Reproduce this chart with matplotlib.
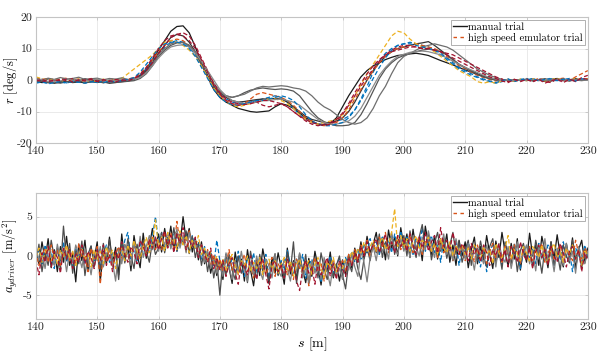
import matplotlib
matplotlib.use("Agg")
import matplotlib.pyplot as plt
import numpy as np

plt.rcParams['font.family'] = 'cmr10'
plt.rcParams['mathtext.fontset'] = 'cm'
plt.rcParams['axes.unicode_minus'] = False

# ---- yaw rate r [deg/s], sampled every 1 m from s = 140 to 230 ----
s_top_start = 140
s_top_step = 1.0

r_manual = [
    # black
    [-0.5, -0.8, -0.6, -1.0, -0.7, -0.4, -0.8, -0.6, -0.9, -0.5,
     -0.7, -0.6, -1.0, -0.8, -0.5, -0.3, 0.2, 1.5, 3.5, 6.5,
     9.5, 12.5, 15.5, 17.0, 17.2, 15.0, 10.5, 5.5, 1.0, -3.0,
     -5.5, -7.0, -8.0, -9.0, -9.5, -10.0, -10.2, -10.0, -9.8, -8.5,
     -7.5, -8.0, -9.0, -10.5, -12.0, -13.0, -14.0, -14.2, -13.8, -12.0,
     -8.5, -5.0, -2.0, 1.0, 3.0, 4.5, 5.5, 6.5, 7.2, 7.8,
     8.0, 8.3, 8.5, 8.2, 7.8, 7.0, 6.2, 5.5, 4.8, 4.0,
     3.2, 2.5, 1.8, 1.0, 0.6, 0.2, -0.2, 0.1, -0.3, 0.2,
     -0.1, 0.3, 0.0, -0.4, 0.2, 0.5, -0.2, 0.1, 0.4, 0.0,
     0.2],
    # dark grey
    [0.2, -0.3, 0.4, 0.0, -0.5, 0.3, 0.1, -0.2, 0.4, 0.0,
     -0.3, 0.2, -0.4, 0.1, -0.2, 0.0, 0.5, 1.2, 3.0, 5.5,
     8.5, 11.0, 13.5, 14.5, 14.0, 12.0, 9.0, 5.0, 1.5, -2.0,
     -4.0, -5.5, -6.5, -7.0, -6.8, -6.5, -6.2, -6.0, -6.0, -5.8,
     -6.0, -7.0, -8.5, -10.0, -11.5, -12.5, -13.0, -13.5, -13.5, -13.0,
     -12.0, -10.0, -7.0, -3.5, 0.0, 3.0, 5.5, 7.5, 9.0, 10.0,
     10.5, 11.0, 11.5, 11.8, 12.2, 11.0, 9.5, 8.0, 6.5, 5.0,
     4.0, 3.0, 2.0, 1.2, 0.5, 0.0, -0.3, 0.2, -0.2, 0.0,
     0.3, -0.2, 0.1, 0.4, -0.1, 0.2, 0.0, -0.3, 0.2, 0.1,
     0.0],
    # grey
    [-0.8, -0.4, -0.9, -0.6, -1.0, -0.5, -0.7, -0.3, -0.8, -0.6,
     -0.4, -0.9, -0.5, -0.7, -0.6, -0.4, -0.2, 0.5, 2.0, 4.5,
     7.5, 9.5, 11.0, 11.8, 12.0, 11.0, 8.5, 5.0, 1.0, -2.5,
     -4.5, -5.0, -5.5, -5.0, -4.0, -3.2, -2.8, -2.5, -2.8, -3.0,
     -2.8, -3.0, -3.5, -5.0, -7.5, -10.0, -12.0, -13.2, -14.0, -14.5,
     -14.5, -14.3, -13.5, -11.0, -7.5, -3.5, 0.5, 3.5, 5.5, 7.0,
     7.8, 8.5, 9.0, 9.5, 9.8, 9.5, 9.0, 8.0, 6.5, 5.0,
     3.8, 2.8, 1.8, 1.0, 0.4, 0.0, -0.3, 0.2, -0.4, 0.1,
     -0.2, 0.3, -0.1, 0.2, -0.3, 0.0, 0.3, -0.2, 0.1, -0.1,
     0.2],
    # mid grey, late riser
    [0.5, 0.0, 0.6, 0.2, 0.8, 0.3, 0.5, 0.9, 0.2, 0.4,
     0.6, 0.1, 0.5, 0.3, 0.7, 0.2, 0.4, 1.0, 2.5, 5.0,
     8.0, 10.0, 11.5, 12.0, 11.8, 11.0, 9.0, 6.0, 2.5, -1.0,
     -3.5, -5.0, -5.5, -5.0, -4.5, -3.5, -2.5, -2.0, -2.2, -2.0,
     -1.8, -2.0, -2.5, -2.8, -3.5, -5.0, -7.0, -8.5, -9.5, -11.0,
     -12.5, -13.5, -14.0, -13.5, -12.0, -9.0, -5.0, -2.0, 2.0, 5.5,
     7.5, 8.5, 9.5, 10.5, 11.0, 11.5, 11.0, 10.5, 9.5, 8.0,
     6.5, 5.0, 3.5, 2.5, 1.5, 0.8, 0.2, -0.3, 0.2, -0.2,
     0.1, -0.3, 0.2, 0.0, -0.2, 0.3, -0.1, 0.2, 0.0, -0.2,
     0.1],
    # light grey
    [-0.2, 0.3, -0.5, 0.1, -0.3, 0.4, -0.1, 0.2, -0.4, 0.0,
     0.3, -0.2, 0.1, -0.4, 0.2, 0.0, 0.3, 0.8, 2.2, 4.5,
     7.0, 9.0, 10.5, 11.0, 11.2, 10.5, 8.5, 6.0, 3.0, 0.0,
     -3.0, -5.0, -6.5, -7.0, -7.5, -7.2, -7.0, -6.5, -6.5, -6.2,
     -6.0, -6.5, -7.0, -8.0, -9.5, -11.0, -12.5, -13.5, -14.0, -14.0,
     -13.5, -13.0, -11.5, -9.0, -5.5, -2.0, 1.5, 4.0, 6.0, 7.5,
     8.2, 8.8, 9.0, 9.2, 9.0, 8.5, 8.0, 7.0, 6.0, 5.0,
     4.0, 3.2, 2.4, 1.5, 0.8, 0.3, -0.2, 0.2, -0.3, 0.1,
     0.0, 0.3, -0.2, 0.1, 0.3, -0.1, 0.2, -0.2, 0.0, 0.2,
     -0.1],
]

r_emulator = [
    # blue
    [-0.5, 0.3, -0.8, 0.2, -0.6, -1.0, -0.3, -0.7, 0.1, -0.5,
     -0.8, -0.2, -0.6, 0.0, -0.4, 0.1, 0.3, 1.5, 3.5, 6.0,
     8.5, 10.5, 12.0, 12.5, 12.0, 10.5, 8.0, 5.0, 1.5, -2.0,
     -4.5, -6.0, -7.0, -7.5, -7.2, -7.0, -6.5, -6.0, -5.5, -5.0,
     -5.5, -7.0, -9.0, -11.0, -12.5, -13.5, -14.0, -14.0, -13.5, -13.0,
     -12.5, -11.5, -9.5, -6.0, -2.0, 2.5, 6.0, 8.5, 10.0, 11.0,
     11.5, 12.0, 11.5, 11.0, 10.5, 9.5, 8.0, 6.5, 5.0, 3.5,
     2.5, 1.5, 0.8, 0.0, -0.5, -1.0, -0.5, 0.3, -0.2, 0.2,
     0.5, -0.3, 0.4, 0.0, 0.6, -0.4, 0.2, 0.5, -0.2, 0.3,
     0.0],
    # orange
    [0.8, 0.2, 0.5, -0.3, 0.4, 0.6, 0.1, 0.3, -0.2, 0.5,
     0.2, -0.3, 0.4, 0.1, -0.1, 0.3, 0.8, 2.0, 4.0, 6.5,
     9.0, 11.0, 12.5, 13.0, 12.5, 11.0, 8.5, 5.0, 1.0, -2.5,
     -5.0, -6.5, -7.5, -8.0, -7.5, -6.0, -4.5, -4.0, -4.5, -5.0,
     -5.5, -6.5, -8.0, -10.0, -12.0, -13.0, -14.0, -14.5, -14.0, -13.5,
     -12.0, -9.5, -6.0, -3.0, 0.0, 3.0, 5.5, 7.5, 9.0, 10.0,
     10.5, 11.0, 11.5, 11.0, 10.5, 10.0, 9.0, 7.5, 6.0, 4.5,
     3.5, 2.5, 1.5, 0.8, 0.2, -0.3, 0.3, -0.5, 0.2, -0.1,
     0.3, -0.2, 0.5, 0.0, -0.4, 0.3, 0.6, -0.2, 1.0, 2.0,
     3.0],
    # yellow
    [1.0, 0.4, -0.2, 0.5, -0.5, 0.2, -0.3, 0.4, -0.6, 0.0,
     -0.5, 0.3, -0.4, 0.1, 0.5, 2.0, 3.5, 5.0, 6.5, 8.0,
     10.0, 12.0, 12.5, 12.0, 11.0, 9.5, 7.5, 4.5, 1.0, -2.5,
     -5.0, -7.0, -8.0, -8.5, -8.0, -7.5, -7.0, -6.5, -6.0, -6.0,
     -6.5, -7.5, -9.0, -11.0, -12.5, -13.5, -14.0, -13.5, -13.0, -12.5,
     -11.0, -8.5, -5.0, -1.5, 2.0, 5.0, 8.0, 11.0, 14.0, 15.5,
     15.0, 13.0, 11.5, 10.5, 10.0, 9.0, 7.5, 6.0, 4.5, 3.0,
     2.0, 1.0, -0.5, -1.0, -0.5, -1.0, -0.3, 0.2, -0.4, 0.3,
     -0.2, 0.4, 0.1, -0.3, 0.2, 0.5, -0.2, 0.0, 0.4, 0.2,
     0.5],
    # dark red
    [0.2, -0.6, 0.0, -0.4, 0.3, -0.2, 0.5, -0.3, 0.0, 0.4,
     -0.3, 0.1, -0.5, 0.2, -0.2, 0.0, 0.4, 1.2, 3.0, 5.5,
     8.5, 11.0, 13.5, 14.5, 15.0, 14.0, 11.0, 7.0, 3.0, -1.0,
     -4.0, -6.0, -7.0, -7.5, -7.5, -7.0, -7.0, -8.0, -8.5, -8.0,
     -7.5, -8.5, -10.0, -11.5, -13.0, -14.0, -14.5, -14.0, -13.5, -12.5,
     -10.5, -7.5, -4.0, -1.0, 2.0, 4.5, 6.5, 8.0, 9.0, 9.5,
     10.0, 10.5, 10.5, 10.0, 10.0, 9.5, 9.0, 8.5, 8.0, 7.0,
     6.0, 5.0, 4.0, 3.0, 2.0, 1.0, 0.3, -0.5, 0.2, -0.3,
     0.3, -0.4, 0.2, -0.5, -0.8, 0.4, -0.3, 0.2, -0.5, 0.8,
     1.5],
    # blue 2
    [-1.0, -0.6, -1.2, -0.8, -0.5, -0.9, -0.4, -0.7, -1.0, -0.6,
     -0.4, -0.8, -0.3, -0.6, -0.2, 0.2, 0.8, 2.5, 5.0, 7.5,
     10.0, 11.5, 12.0, 12.0, 11.5, 10.0, 7.5, 4.0, 0.5, -3.0,
     -5.5, -7.0, -7.8, -8.0, -7.5, -7.0, -6.5, -6.5, -6.0, -5.5,
     -5.0, -5.5, -6.5, -8.5, -11.0, -13.0, -14.0, -14.5, -14.5, -14.0,
     -13.5, -12.0, -9.5, -6.5, -3.0, 0.5, 4.0, 7.0, 9.5, 11.0,
     11.5, 11.5, 11.0, 10.5, 10.0, 9.5, 8.5, 7.0, 5.5, 4.0,
     3.0, 2.0, 1.0, 0.3, -0.3, -0.8, -0.2, 0.3, -0.5, 0.2,
     0.0, 0.5, -0.3, 0.2, 0.4, -0.2, 0.3, 0.0, -0.3, 0.4,
     0.2],
    # dark red 2
    [-0.3, 0.2, -0.5, 0.0, -0.2, 0.3, -0.6, 0.1, -0.3, 0.2,
     -0.5, 0.0, -0.2, -0.6, 0.1, -0.2, 0.5, 1.8, 4.0, 7.0,
     10.0, 12.5, 14.0, 14.5, 14.0, 12.5, 10.0, 6.5, 2.5, -1.5,
     -4.5, -6.5, -7.5, -8.0, -7.8, -7.5, -7.0, -6.5, -6.5, -7.0,
     -7.5, -8.5, -10.0, -11.5, -12.5, -13.5, -14.0, -14.5, -14.0, -13.0,
     -11.0, -8.0, -5.0, -2.0, 1.0, 3.5, 6.0, 8.0, 9.5, 10.5,
     11.0, 11.0, 10.5, 10.0, 10.0, 9.5, 9.0, 8.0, 7.0, 6.0,
     5.0, 4.0, 3.0, 2.0, 1.0, 0.5, -0.3, -0.8, 0.2, -0.5,
     0.2, -0.6, 0.3, -1.0, -0.2, 0.3, -0.8, 0.2, -0.3, 0.5,
     0.3],
]

# ---- driver lateral acceleration [m/s^2], sampled every 0.5 m ----
s_bot_start = 140
s_bot_step = 0.5

a_manual = [
    [0.5, -1.0, 1.8, -0.5, 2.2, -1.5, 0.8, -2.0, 1.2, -0.8, 2.5, -1.2, 0.3, -3.3, 1.5, -0.6, 2.0, -1.8, 0.9, -0.4,
     1.8, -3.2, 0.6, -1.0, 2.4, -0.9, 1.1, -2.4, 2.8, -0.7, 1.3, -1.9, 2.6, 0.2, -1.5, 2.9, -0.3, 1.2, 3.5, 1.0,
     2.8, 0.5, 3.5, 1.2, 3.8, 0.8, 2.9, 1.5, 5.0, 2.0, 3.5, 0.5, 2.2, -0.5, 1.8, -1.0, 0.5, -2.2, -0.3, -2.5,
     -0.8, -3.0, 0.2, -1.5, -3.5, 0.5, -2.0, -0.4, -3.2, 0.8, -1.8, -3.8, -0.5, -2.5, 0.9, -1.2, -3.5, -0.2, -2.2, 0.4,
     -1.5, -3.6, 1.0, -2.3, -0.6, -3.0, 0.3, -1.8, -3.4, -0.3, -2.6, 0.6, -1.4, -3.7, -0.8, -2.0, 0.5, -2.8, -1.0, -3.2,
     -0.5, -2.4, 0.2, -1.5, 1.0, -0.8, 1.8, -0.3, 2.5, 0.4, 1.5, 3.0, 0.2, 2.2, -0.5, 3.3, 1.0, 2.4, 0.0, 3.6,
     1.2, 2.8, -0.2, 3.4, 0.8, 2.0, -0.6, 3.8, 1.5, 0.2, 2.6, -0.4, 1.9, 0.6, 2.8, -0.8, 1.4, -1.2, 2.0, 0.0,
     1.8, -1.5, 0.8, 2.4, -1.0, 1.2, -0.5, 2.6, 0.3, -1.6, 1.9, -0.2, 3.0, 0.5, -1.3, 1.6, -0.4, 2.2, -1.8, 0.9,
     -0.8, 2.9, 0.0, 1.4, -1.2, 2.5, 0.6, -1.5, 1.8, -0.3, 2.7, 0.1, -1.4, 1.6, -0.6, 2.3, -1.6, 0.8, 2.0, -0.9,
     1.0],
    [-0.8, 1.5, -2.0, 0.4, -1.2, 2.0, -0.2, 1.0, -1.8, 3.8, -0.5, 1.6, -2.2, 0.7, -1.0, 1.9, -2.5, 0.2, 1.3, -1.4,
     0.5, -1.8, 1.6, -0.6, 2.1, -1.3, 0.4, -3.0, 1.8, -0.9, 2.2, 0.0, -1.6, 1.5, -0.4, 2.0, 0.6, -0.8, 1.9, 0.2,
     1.0, 3.0, 0.4, 2.4, 1.2, 3.6, 0.6, 2.8, 1.5, 3.2, 0.3, 2.5, -0.2, 1.6, -1.2, 0.9, -2.0, 0.4, -2.8, -0.6,
     -5.0, -0.5, -2.4, 0.2, -1.8, -3.0, 0.0, -2.2, -1.0, -3.4, 0.6, -1.6, -2.8, 0.2, -2.0, -0.6, -3.2, -1.2, 0.3, -2.5,
     -0.8, -2.9, 0.5, -1.9, 1.8, -3.5, -0.6, -2.2, 0.2, -3.6, -1.4, -0.2, -2.8, 0.4, -1.6, -3.0, -0.5, -2.6, -1.2, 0.0,
     -2.4, -4.2, -0.8, -2.0, 0.4, -1.6, -3.0, -0.4, 1.0, -0.6, 1.6, 0.4, 2.8, -0.2, 1.8, 0.8, 3.0, 0.2, 2.0, 1.2,
     2.6, 0.0, 3.2, 1.2, -0.2, 2.4, 4.0, 1.0, 2.8, -0.5, 1.6, 3.0, 0.6, 2.2, -0.3, 1.4, 3.0, 0.2, 1.8, -0.8,
     0.8, 2.0, -1.2, 1.4, -0.6, 1.9, 0.0, -1.4, 1.2, 2.2, -0.8, 0.6, -1.7, 1.8, 0.2, -1.0, 1.5, -2.0, 0.7, 1.6,
     -0.4, 1.2, -1.5, 2.0, 0.3, -2.2, 1.0, -0.6, 1.8, -1.2, 0.5, -1.8, 1.4, 0.0, -0.9, 2.0, -0.4, 1.0, -1.6, 0.8,
     -0.2],
    [1.2, -0.6, 0.4, -1.6, 1.0, 0.0, -1.2, 1.5, -0.4, 0.8, -2.0, 0.6, -0.8, 1.4, 0.1, -1.5, 0.9, -0.3, -2.4, 0.5,
     -0.6, 1.2, -1.4, 0.3, 1.0, -0.8, -3.2, 0.8, -1.0, 1.5, 0.2, -1.2, 1.8, -0.5, 2.5, -0.2, 1.2, 2.6, 0.8, 2.2,
     0.6, 2.6, 1.4, 3.0, 0.9, 2.2, 3.4, 1.0, 2.6, 0.4, 3.0, 1.2, 2.0, 0.0, 1.4, -0.8, 0.6, -1.6, -0.4, -2.2,
     -1.0, -2.6, 0.4, -1.4, -3.0, -0.6, -2.0, 0.6, -1.6, -3.2, -0.8, -2.4, 0.0, -1.8, -3.0, -0.4, -1.2, -2.8, 0.2, -1.8,
     -2.6, -0.4, -1.6, -3.2, -0.8, -2.0, 0.4, -2.8, -1.4, -3.4, -0.6, -2.2, -1.0, -3.0, -0.2, -2.0, -3.8, -0.8, -2.4, -1.6,
     -3.0, -0.6, -1.8, 0.2, -1.4, -2.6, 0.6, -0.8, -3.3, -0.2, 1.2, -0.6, 2.0, 0.6, 1.4, -0.4, 2.6, 1.0, 0.2, 2.2,
     0.6, 1.8, -0.2, 2.6, 1.2, 0.0, 2.4, 0.8, 3.2, 1.4, -0.2, 2.0, 0.8, 2.8, 0.2, 1.6, -0.6, 2.2, 0.4, 1.2,
     -0.4, 1.6, 0.2, -1.8, 1.0, 0.4, -1.0, 1.4, -0.2, 0.8, -1.4, 1.6, 0.0, -0.8, 1.2, -1.6, 0.4, 1.8, -0.6, 0.2,
     1.4, -1.0, 0.6, -1.9, 1.2, -0.4, 2.2, -0.8, 0.4, -2.0, 1.0, 0.2, -1.2, 1.6, -0.6, 0.6, -2.2, 1.2, 0.0, -1.0,
     0.6],
]

a_emulator = [
    # blue
    [-0.4, 0.8, -1.2, 1.4, -0.2, 0.6, -1.6, 1.0, -0.6, 1.8, -0.8, 0.4, -1.4, 0.9, -0.3, 1.6, -1.0, 0.2, 1.2, -0.6,
     0.8, -1.2, 0.3, 1.4, -0.8, 0.6, -1.6, 1.0, -0.2, 2.0, 3.0, -0.4, 1.2, -0.8, 1.8, 0.2, 1.2, 0.6, 2.4, 5.0,
     1.6, 3.0, 0.8, 2.4, 1.4, 3.2, 0.6, 2.2, 1.8, 3.0, 0.4, 2.6, 0.8, 1.8, -0.4, 1.2, -0.8, 0.4, -1.2, 2.0,
     -0.6, -2.2, 0.2, -1.4, -0.4, -2.0, 0.6, -1.2, -2.6, -0.2, -1.6, 0.4, -2.2, -0.8, -1.4, 0.2, -2.8, -1.0, -0.2, -2.4,
     -0.6, -1.8, 0.8, -1.2, -2.4, -0.4, -1.6, 0.2, -2.8, -1.2, -0.4, -2.0, -1.0, -3.4, -0.6, -1.4, 0.0, -2.2, -1.0, -0.4,
     -1.8, -0.2, -1.2, 0.4, -0.8, 1.0, -0.4, 1.6, 0.4, 2.2, 0.8, 1.8, 0.2, 2.6, 1.0, 2.0, 0.4, 2.8, 1.2, 3.2,
     0.8, 2.4, 1.4, 0.2, 2.2, 1.0, 3.6, 0.6, 1.8, 2.6, 0.4, 1.6, -0.8, 2.2, 0.6, 1.4, 0.0, 2.0, -1.2, 1.0,
     0.4, 1.8, -0.4, 1.2, 0.2, -1.4, 1.0, -2.0, 0.6, 1.4, -0.4, 0.8, -1.2, 1.6, 0.2, -0.8, 1.2, 0.4, -1.6, 0.6,
     1.2, -0.2, 0.8, -1.0, 1.6, 0.0, -0.6, 1.4, 0.4, -1.2, 0.9, -0.4, 1.8, -0.2, 0.6, -2.0, 1.0, 0.2, -0.8, 1.4,
     0.0],
    # orange
    [0.6, -1.2, 0.2, 1.0, -0.8, 1.4, -0.4, 0.8, -1.2, 0.4, 1.2, -0.6, 0.6, -1.0, 1.6, -0.2, 0.4, -2.0, 1.0, -0.4,
     1.2, -3.6, 0.4, -0.8, 1.0, -1.4, 0.2, 1.2, -0.6, 1.4, 0.0, -1.0, 1.8, -0.2, 0.8, 1.6, 0.2, 1.4, 2.4, 0.8,
     2.0, 0.8, 2.8, 1.4, 3.0, 1.0, 4.4, 1.6, 2.4, 0.6, 3.2, 1.2, 2.0, 0.2, 1.4, -0.6, 0.8, -1.4, 0.2, -1.8,
     -0.4, -2.0, -1.0, 0.8, -1.8, -0.6, -2.4, -1.0, 0.2, -2.0, -1.2, -2.8, -0.4, -1.6, -0.6, -2.4, -1.2, -0.2, -2.6, -1.0,
     -1.8, -0.6, -2.4, -1.2, -3.0, -0.4, -1.6, -2.2, -0.8, -3.8, -1.4, -0.2, -2.0, -1.0, -3.2, -0.6, -1.8, -0.4, -2.4, -1.2,
     -0.6, -2.0, 0.2, -1.0, 0.8, -0.6, 1.4, 0.4, 2.0, -0.2, 1.6, 0.6, 2.4, 1.0, 3.0, 0.4, 1.8, 1.2, 2.6, 0.8,
     2.2, 1.0, 2.8, 0.4, 1.6, 2.4, 0.2, 1.8, 2.0, 0.6, 1.4, -0.2, 2.2, 0.4, 1.0, 1.6, -0.6, 1.4, 0.2, 1.0,
     -0.6, 1.2, 0.4, -0.8, 1.4, 0.0, 1.0, -1.0, 0.6, 1.6, -0.4, 0.8, -0.8, 1.2, 0.2, -0.6, 1.4, 0.4, -1.0, 0.8,
     0.2, 1.2, -0.6, 0.8, 0.0, 1.6, -0.8, 0.4, 1.0, -0.4, 0.6, 1.4, -1.0, 0.8, 0.2, -0.6, 2.0, 0.4, -0.4, 1.0,
     0.4],
    # yellow
    [-0.2, 1.0, -0.8, 0.4, 1.2, -0.6, 0.2, -1.0, 0.8, -0.2, 1.4, -0.4, 0.6, -1.2, 0.2, 1.0, -0.6, 0.4, -1.4, 0.8,
     -0.4, 0.6, -1.0, 1.2, -0.2, 0.8, -1.6, 0.4, 1.0, -0.6, 1.4, 0.0, 2.0, 0.6, -0.4, 1.2, 2.4, 0.4, 1.6, 4.6,
     1.2, 2.4, 0.6, 3.0, 1.6, 2.2, 0.8, 3.2, 1.4, 2.6, 0.4, 2.0, 1.0, 2.6, 0.2, 1.0, -0.6, 0.6, -1.0, 0.0,
     -1.6, -0.4, -2.0, -0.8, 0.2, -1.4, -2.2, -0.6, -1.2, 0.0, -2.0, -0.8, -1.6, -0.2, -2.4, -1.0, -0.4, -1.8, -0.6, -2.2,
     -1.0, -0.2, -1.8, -0.6, -2.6, -1.2, -0.4, -2.0, -1.4, -0.6, -2.4, -1.0, -0.2, -1.6, -2.8, -0.8, -1.4, -0.2, -2.0, -1.0,
     -1.6, -0.4, -0.8, 0.6, -0.4, 1.0, 0.2, 1.8, 0.6, 1.2, 2.0, 0.6, 1.6, 2.4, 0.8, 1.4, 3.0, 6.0, 1.2, 2.6,
     1.0, 2.2, 0.6, 1.8, 2.6, 0.8, 2.0, 1.4, 2.4, 0.6, 1.6, 0.2, 2.2, 1.0, 0.4, 1.8, 0.0, 1.2, 0.6, 1.4,
     0.2, 1.0, -0.4, 1.4, 0.6, -0.6, 1.2, 0.2, 0.8, -1.0, 1.6, 0.4, -0.2, 1.0, 2.6, -0.4, 0.8, 0.2, -0.6, 1.2,
     0.4, -0.8, 1.2, 0.6, -0.2, 1.4, 0.0, -1.0, 0.8, 1.6, -0.2, 0.6, -0.8, 1.0, 0.2, 1.4, -0.4, 0.8, -1.2, 0.6,
     0.2],
    # dark red
    [-0.6, -2.4, 0.4, -0.8, 1.2, -1.4, 0.6, -0.2, -2.2, 1.0, -0.4, 0.8, -1.6, 0.2, -0.8, 1.4, -1.0, 0.6, -0.2, -1.6,
     0.8, -0.6, 1.4, -1.2, 0.2, -2.0, 0.6, -0.4, 1.8, 0.2, -0.8, 1.2, 0.4, -1.0, 2.0, 1.2, 0.0, 2.2, 1.0, 2.4,
     0.8, 2.2, 3.2, 1.0, 2.6, 0.4, 2.8, 1.6, 3.6, 0.8, 2.0, 1.2, 2.4, -0.2, 1.4, 0.2, -0.8, 1.0, -1.6, -0.2,
     -1.8, -0.6, -2.6, -1.0, -0.2, -2.2, -3.6, -0.8, -1.4, -2.4, 0.0, -1.6, -3.0, -1.0, -0.4, -2.4, -4.2, -1.2, -0.6, -2.0,
     -1.2, -2.8, -0.4, -2.0, -1.0, -3.2, -4.4, -1.6, -0.6, -2.2, -1.4, -3.6, -0.8, -2.4, -1.2, -0.2, -2.6, -1.0, -3.0, -0.6,
     -1.6, -2.6, -0.2, -1.2, 0.4, -0.8, 1.2, 0.0, 1.8, 0.6, 1.4, 2.2, 0.4, 1.6, 2.8, 0.8, 1.8, 0.4, 2.6, 1.2,
     2.0, 0.6, 2.8, 1.4, 0.2, 2.4, 1.0, 3.0, 0.6, 1.8, 2.6, 0.4, 3.6, 1.2, 2.0, 0.6, 3.0, 1.0, 0.2, 1.6,
     0.8, -0.6, 1.6, 0.2, 1.0, -0.8, 1.4, 0.4, -1.2, 0.8, 0.0, 1.6, -0.6, 0.8, -1.4, 1.2, 0.4, -0.8, 1.8, 0.2,
     -0.6, 1.0, -1.6, 0.6, 1.4, -0.2, 0.8, -1.2, 1.2, 0.0, -0.8, 1.6, 0.4, -1.4, 0.6, 1.2, -0.4, 0.8, -2.0, 0.4,
     -0.6],
]

manual_colors_top = ['#1a1a1a', '#333333', '#555555', '#6e6e6e', '#8a8a8a']
emu_colors_top = ['#0072BD', '#D95319', '#EDB120', '#A2142F', '#0072BD', '#A2142F']
manual_colors_bot = ['#1a1a1a', '#4d4d4d', '#808080']
emu_colors_bot = ['#0072BD', '#D95319', '#EDB120', '#A2142F']

fig = plt.figure(figsize=(5.98, 3.55), dpi=100)
ax1 = fig.add_axes([0.060, 0.597, 0.923, 0.355])
ax2 = fig.add_axes([0.060, 0.102, 0.923, 0.354])

dash = (3.5, 2.0)

for i in range(max(len(r_manual), len(r_emulator))):
    if i < len(r_manual):
        y = r_manual[i]
        x = s_top_start + s_top_step * np.arange(len(y))
        ax1.plot(x, y, color=manual_colors_top[i], lw=0.9)
    if i < len(r_emulator):
        y = r_emulator[i]
        x = s_top_start + s_top_step * np.arange(len(y))
        ax1.plot(x, y, color=emu_colors_top[i], lw=0.9, linestyle=(0, dash))

for i in range(max(len(a_manual), len(a_emulator))):
    if i < len(a_manual):
        y = a_manual[i]
        x = s_bot_start + s_bot_step * np.arange(len(y))
        ax2.plot(x, y, color=manual_colors_bot[i], lw=0.9)
    if i < len(a_emulator):
        y = a_emulator[i]
        x = s_bot_start + s_bot_step * np.arange(len(y))
        ax2.plot(x, y, color=emu_colors_bot[i], lw=0.9, linestyle=(0, dash))

for ax in (ax1, ax2):
    ax.set_xlim(140, 230)
    ax.set_xticks(np.arange(140, 231, 10))
    ax.grid(True, color='#e6e6e6', lw=0.6)
    ax.set_axisbelow(True)
    for sp in ax.spines.values():
        sp.set_color('#c4c4c4')
        sp.set_linewidth(0.8)
    ax.tick_params(direction='in', length=2.5, width=0.6, color='#c4c4c4',
                   labelsize=8.5, labelcolor='#262626', top=True, right=True, pad=2.5)
    h1, = ax.plot([], [], color='#1a1a1a', lw=1.0)
    h2, = ax.plot([], [], color='#D95319', lw=1.0, linestyle=(0, (2.5, 2.5)))
    leg = ax.legend([h1, h2], ['manual trial', 'high speed emulator trial'],
                    loc='upper right', fontsize=7.5, handlelength=1.3, handletextpad=0.1,
                    borderpad=0.25, labelspacing=0.1, borderaxespad=0.25, fancybox=False,
                    framealpha=1, edgecolor='#b0b0b0')
    leg.get_frame().set_linewidth(0.7)

ax1.set_ylim(-20, 20)
ax1.set_yticks([-20, -10, 0, 10, 20])
ax1.set_ylabel('$r$ [deg/s]', fontsize=9)
ax1.yaxis.set_label_coords(-0.028, 0.5)

ax2.set_ylim(-8, 8)
ax2.set_yticks([-5, 0, 5])
ax2.set_ylabel('$a_{ydriver}$ [m/s$^2$]', fontsize=9)
ax2.yaxis.set_label_coords(-0.028, 0.5)
ax2.set_xlabel('$s$ [m]', fontsize=10, labelpad=3)

fig.savefig('out.png', dpi=100, facecolor='white')
